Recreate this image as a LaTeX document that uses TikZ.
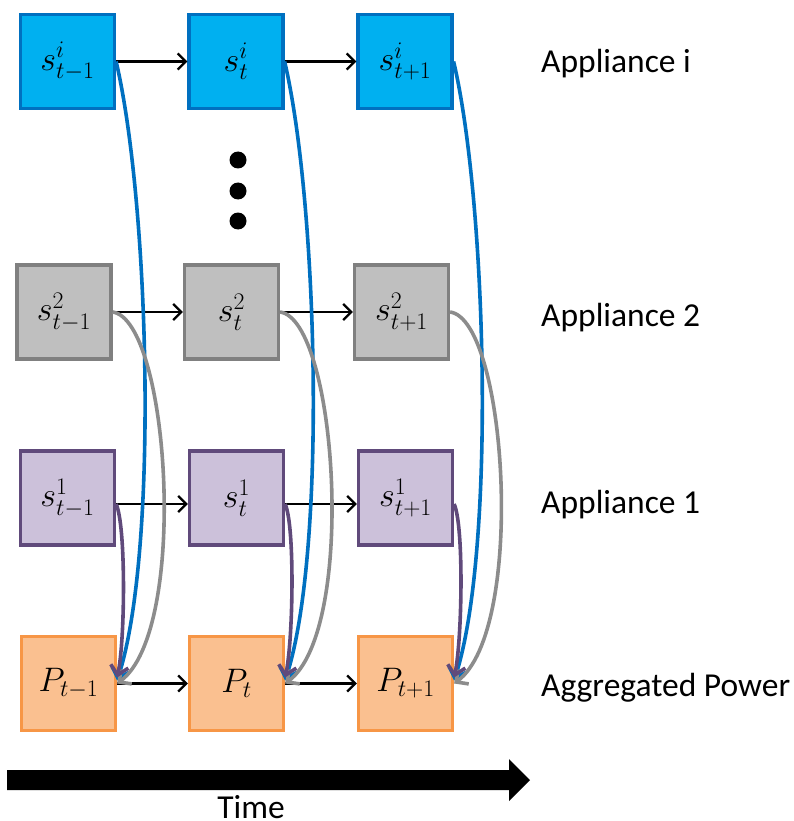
\RequirePackage{fix-cm}
\documentclass[tikz,border=0pt]{standalone}
\usepackage{fontspec}
\newfontfamily\carlito{Carlito}
\usetikzlibrary{arrows.meta}
\definecolor{bfill}{HTML}{00B0F0}
\definecolor{bline}{HTML}{0070C0}
\definecolor{gfill}{HTML}{BFBFBF}
\definecolor{gline}{HTML}{808080}
\definecolor{gcurve}{HTML}{8C8C8C}
\definecolor{mfill}{HTML}{CCC1DA}
\definecolor{mline}{HTML}{604A7B}
\definecolor{pfill}{HTML}{FAC090}
\definecolor{pline}{HTML}{F79646}
\begin{document}
\begin{tikzpicture}[x=1pt,y=-1pt,
  box/.style={draw, line width=3.2pt, minimum size=94pt, inner sep=0pt,
    font=\fontsize{34}{40}\selectfont},
  bbox/.style={box, fill=bfill, draw=bline},
  gbox/.style={box, fill=gfill, draw=gline},
  mbox/.style={box, fill=mfill, draw=mline},
  pbox/.style={box, fill=pfill, draw=pline},
  harrow/.style={draw=black, line width=2.4pt, -{Straight Barb[length=8pt,width=16pt]}},
  curve/.style={line width=3.6pt, -{Straight Barb[length=9pt,width=18pt]}},
  lab/.style={inner sep=0pt, font=\carlito\fontsize{33.5}{40}\selectfont}]
\useasboundingbox (0,0) rectangle (793,821);

% boxes
\node[bbox] (b1) at (67.5,61.5) {$s^{i}_{t-1}$};
\node[bbox] (b2) at (236,61.5) {$s^{i}_{t}$};
\node[bbox] (b3) at (405,61.5) {$s^{i}_{t+1}$};
\node[gbox] (g1) at (64,312) {$s^{2}_{t-1}$};
\node[gbox] (g2) at (231.5,312) {$s^{2}_{t}$};
\node[gbox] (g3) at (401.5,312) {$s^{2}_{t+1}$};
\node[mbox] (m1) at (67.5,498) {$s^{1}_{t-1}$};
\node[mbox] (m2) at (236.5,498) {$s^{1}_{t}$};
\node[mbox] (m3) at (405.5,498) {$s^{1}_{t+1}$};
\node[pbox] (p1) at (68.5,683.5) {$P_{t-1}$};
\node[pbox] (p2) at (236.5,683.5) {$P_{t}$};
\node[pbox] (p3) at (405.5,683.5) {$P_{t+1}$};

% dots
\fill (238,160) circle (8.5);
\fill (238,191) circle (8.5);
\fill (238,221) circle (8.5);

% horizontal arrows
\draw[harrow] (b1.east) -- (b1.east -| b2.west);
\draw[harrow] (b2.east) -- (b2.east -| b3.west);
\draw[harrow] (g1.east) -- (g1.east -| g2.west);
\draw[harrow] (g2.east) -- (g2.east -| g3.west);
\draw[harrow] ([yshift=-6pt]m1.east) -- ([yshift=-6pt]m1.east -| m2.west);
\draw[harrow] ([yshift=-6pt]m2.east) -- ([yshift=-6pt]m2.east -| m3.west);
\draw[harrow] (p1.east) -- (p1.east -| p2.west);
\draw[harrow] (p2.east) -- (p2.east -| p3.west);

% curves to aggregated power
\foreach \k in {1,2,3}{
  \draw[curve, draw=bline] (b\k.east) .. controls +(33,140) and +(42,-129) .. ([yshift=3pt]p\k.east);
  \draw[curve, draw=gcurve] (g\k.east) .. controls +(57,8) and +(72,-53) .. (p\k.east);
  \draw[curve, draw=mline] ([yshift=-6pt]m\k.east) .. controls +(10,22) and +(8,-37) .. ([yshift=6pt]p\k.east);
}

% row labels
\node[lab, anchor=base west] (li) at (541,73) {Appliance i};
\node[lab, anchor=base west] (l2) at (541,326) {Appliance 2};
\node[lab, anchor=base west] (l1) at (541,513) {Appliance 1};
\node[lab, anchor=base west] (lp) at (541,696) {Aggregated Power};

% time arrow
\fill (7,770) -- (509,770) -- (509,759) -- (530,780) -- (509,801) -- (509,790) -- (7,790) -- cycle;
\node[lab] (time) at (251,807) {Time};
\end{tikzpicture}
\end{document}
